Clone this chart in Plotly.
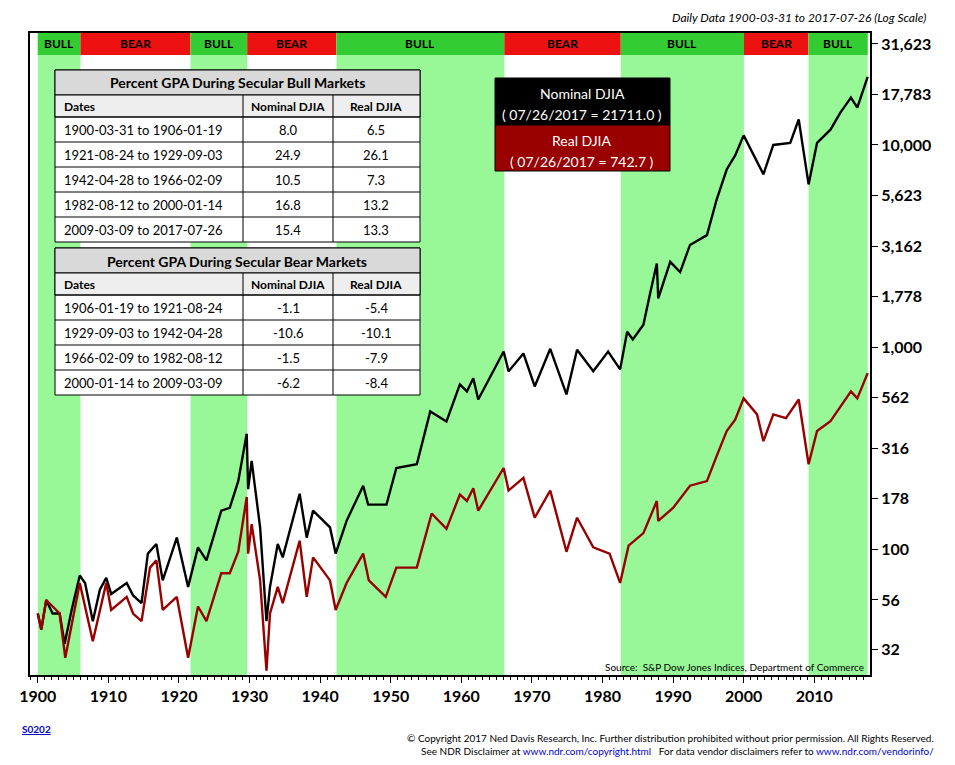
import plotly.graph_objects as go

# page body keeps an 8px margin, so the figure is drawn 8px in from the window edge
OFF = 8
W, H = 955 - 2 * OFF, 765 - 2 * OFF

# ---- data ----
nominal_years = [1900.0, 1900.5, 1901.2, 1902.1, 1903.1, 1903.8, 1904.8, 1905.95, 1906.7, 1907.8,
                 1908.8, 1909.7, 1910.4, 1912.6, 1913.5, 1914.7, 1915.6, 1916.8, 1917.7, 1919.7,
                 1921.3, 1922.7, 1923.9, 1926.0, 1927.2, 1928.4, 1929.6, 1929.8, 1930.3, 1931.5,
                 1932.4, 1932.9, 1934.0, 1934.7, 1937.1, 1938.1, 1939.0, 1941.4, 1942.2, 1943.75,
                 1946.1, 1946.8, 1949.4, 1950.8, 1953.7, 1955.6, 1957.9, 1959.8, 1960.8, 1961.7,
                 1962.4, 1966.0, 1966.7, 1968.8, 1970.4, 1972.6, 1974.9, 1976.4, 1978.7, 1980.8,
                 1982.5, 1983.5, 1984.3, 1985.8, 1986.7, 1987.7, 1987.9, 1989.6, 1991.0, 1992.4,
                 1994.8, 1996.2, 1997.6, 1998.8, 2000.0, 2001.9, 2002.8, 2004.2, 2006.6, 2007.8,
                 2009.2, 2010.4, 2012.3, 2013.7, 2015.2, 2016.1, 2017.57]
nominal_djia = [48, 40, 56, 48, 48, 34, 50, 74, 68, 44,
                63, 72, 60, 68, 59, 54, 95, 106, 70, 114,
                65, 102, 88, 155, 160, 217, 372, 198, 273, 128,
                44, 65, 106, 91, 188, 114, 155, 128, 95, 138,
                206, 166, 166, 252, 263, 480, 428, 653, 603, 700,
                550, 950, 758, 930, 638, 980, 583, 970, 758, 950,
                775, 1190, 1090, 1290, 1810, 2590, 1740, 2640, 2350, 3200,
                3580, 5400, 7560, 8880, 11150, 8200, 7160, 10000, 10240, 13360,
                6380, 10240, 11900, 14450, 17150, 15300, 21711]

real_years = [1900.0, 1900.5, 1901.2, 1903.1, 1903.9, 1905.95, 1907.8, 1909.7, 1910.4, 1912.6,
              1913.5, 1914.7, 1915.9, 1916.8, 1917.7, 1919.7, 1921.3, 1922.7, 1923.9, 1926.0,
              1927.2, 1928.4, 1929.6, 1929.8, 1930.3, 1931.5, 1932.4, 1932.9, 1934.0, 1934.7,
              1937.1, 1938.1, 1939.0, 1941.4, 1942.2, 1943.75, 1946.1, 1946.9, 1949.3, 1950.8,
              1953.7, 1955.8, 1957.9, 1959.8, 1960.8, 1961.7, 1962.4, 1966.0, 1966.7, 1968.8,
              1970.4, 1972.6, 1974.9, 1976.4, 1978.7, 1981.0, 1982.5, 1983.7, 1985.8, 1987.7,
              1987.9, 1990.0, 1992.4, 1994.8, 1996.2, 1997.6, 1998.8, 2000.0, 2001.9, 2002.8,
              2004.2, 2006.0, 2007.8, 2009.2, 2010.4, 2012.3, 2015.2, 2016.1, 2017.57]
real_djia = [48, 40, 56, 48, 29, 68, 35, 68, 50, 58,
             48, 44, 81, 88, 50, 58, 29, 52, 44, 76,
             76, 97, 181, 95, 133, 70, 25, 48, 65, 54,
             110, 58, 91, 70, 50, 68, 95, 70, 58, 81,
             81, 150, 126, 186, 173, 200, 155, 252, 195, 225,
             143, 195, 97, 143, 102, 95, 68, 104, 120, 173,
             138, 160, 206, 217, 290, 384, 437, 557, 464, 342,
             464, 445, 550, 263, 384, 430, 603, 557, 742.7]

regime_start = [1900.0, 1906.05, 1921.65, 1929.67, 1942.32, 1966.1, 1982.6, 2000.04, 2009.2]
regime_end = [1906.05, 1921.65, 1929.67, 1942.32, 1966.1, 1982.6, 2000.04, 2009.2, 2017.57]
regime_label = ["BULL", "BEAR", "BULL", "BEAR", "BULL", "BEAR", "BULL", "BEAR", "BULL"]

bull_dates = ["1900-03-31 to 1906-01-19", "1921-08-24 to 1929-09-03", "1942-04-28 to 1966-02-09",
              "1982-08-12 to 2000-01-14", "2009-03-09 to 2017-07-26"]
bull_nominal = ["8.0", "24.9", "10.5", "16.8", "15.4"]
bull_real = ["6.5", "26.1", "7.3", "13.2", "13.3"]
bear_dates = ["1906-01-19 to 1921-08-24", "1929-09-03 to 1942-04-28",
              "1966-02-09 to 1982-08-12", "2000-01-14 to 2009-03-09"]
bear_nominal = ["-1.1", "-10.6", "-1.5", "-6.2"]
bear_real = ["-5.4", "-10.1", "-7.9", "-8.4"]

y_ticks = [32, 56, 100, 178, 316, 562, 1000, 1778, 3162, 5623, 10000, 17783, 31623]
x_ticks = list(range(1900, 2011, 10))

FONT = "Lato"
px = lambda x: (x - OFF) / W
py = lambda y: 1 - (y - OFF) / H

fig = go.Figure()
fig.add_trace(go.Scatter(x=nominal_years, y=nominal_djia, mode="lines",
                         line=dict(color="black", width=2.4), showlegend=False))
fig.add_trace(go.Scatter(x=real_years, y=real_djia, mode="lines",
                         line=dict(color="#990000", width=2.4), showlegend=False))

shapes, annots = [], []


def text(x, y, s, size=13, color="black", anchor="center"):
    annots.append(dict(x=px(x), y=py(y), xref="paper", yref="paper", xanchor=anchor, yanchor="middle",
                       showarrow=False, text=s, font=dict(family=FONT, size=size, color=color)))


for s, e, lab in zip(regime_start, regime_end, regime_label):
    bull = lab == "BULL"
    if bull:
        shapes.append(dict(type="rect", xref="x", yref="y domain", x0=s, x1=e, y0=0, y1=1,
                           fillcolor="#98f898", line_width=0, layer="below"))
    shapes.append(dict(type="rect", xref="x", yref="y domain", x0=s, x1=e, y0=0.9657, y1=1,
                       fillcolor="#33cc33" if bull else "#ee1111", line_width=0, layer="below"))
    annots.append(dict(x=(s + e) / 2, y=0.983, xref="x", yref="y domain", text=f"<b>{lab}</b>",
                       xanchor="center", yanchor="middle", showarrow=False,
                       font=dict(family=FONT, size=12, color="black")))

cols = [55, 243, 333, 420]


def table(top, title, dates, nom, real):
    bottom = top + 47 + 25 * len(dates)
    box = dict(type="rect", xref="paper", yref="paper", x0=px(55), x1=px(420), line=dict(color="black", width=1))
    shapes.append(dict(box, y0=py(bottom), y1=py(top), fillcolor="white"))
    shapes.append(dict(box, y0=py(top + 25), y1=py(top), fillcolor="#d9d9d9"))
    shapes.append(dict(box, y0=py(top + 47), y1=py(top + 25), fillcolor="#eeeeee"))
    for k in range(len(dates)):
        yy = top + 47 + 25 * k
        shapes.append(dict(type="line", xref="paper", yref="paper", x0=px(55), x1=px(420),
                           y0=py(yy), y1=py(yy), line=dict(color="black", width=1)))
    for c in cols[1:3]:
        shapes.append(dict(type="line", xref="paper", yref="paper", x0=px(c), x1=px(c),
                           y0=py(top + 25), y1=py(bottom), line=dict(color="black", width=1)))
    text(237, top + 13, f"<b>{title}</b>", 14)
    text(62, top + 36, "<b>Dates</b>", 12, anchor="left")
    text(288, top + 36, "<b>Nominal DJIA</b>", 12)
    text(376, top + 36, "<b>Real DJIA</b>", 12)
    for k, (d, n, r) in enumerate(zip(dates, nom, real)):
        yy = top + 47 + 25 * k + 13
        text(62, yy, d, 13, anchor="left")
        text(288, yy, n)
        text(376, yy, r)


table(70, "Percent GPA During Secular Bull Markets", bull_dates, bull_nominal, bull_real)
table(248, "Percent GPA During Secular Bear Markets", bear_dates, bear_nominal, bear_real)

# legend box
shapes.append(dict(type="rect", xref="paper", yref="paper", x0=px(495), x1=px(670), y0=py(125), y1=py(78),
                   fillcolor="black", line=dict(color="black", width=1)))
shapes.append(dict(type="rect", xref="paper", yref="paper", x0=px(495), x1=px(670), y0=py(171), y1=py(125),
                   fillcolor="#990000", line=dict(color="black", width=1)))
for s, yy in [("Nominal DJIA", 93), ("( 07/26/2017 = 21711.0 )", 115),
              ("Real DJIA", 140), ("( 07/26/2017 = 742.7 )", 161)]:
    text(582, yy, s, 14, "white")

text(928, 17, "<i>Daily Data 1900-03-31 to 2017-07-26 (Log Scale)</i>", 12, anchor="right")
text(866, 667, "Source:  S&P Dow Jones Indices, Department of Commerce", 10, anchor="right")
text(20, 729, "<b><u>S0202</u></b>", 10, "#0000cc", anchor="left")
text(936, 738, "© Copyright 2017 Ned Davis Research, Inc. Further distribution prohibited without prior permission. All Rights Reserved.",
     10, anchor="right")
text(936, 751, "See NDR Disclaimer at <span style='color:#0000cc'>www.ndr.com/copyright.html</span>   "
     "For data vendor disclaimers refer to <span style='color:#0000cc'>www.ndr.com/vendorinfo/</span>",
     10, anchor="right")

fig.update_layout(
    width=W, height=H, margin=dict(l=0, r=0, t=0, b=0, autoexpand=False),
    plot_bgcolor="white", paper_bgcolor="white",
    shapes=shapes, annotations=annots,
    xaxis=dict(domain=[px(30), px(870)], range=[1898.9, 2017.9], tickvals=x_ticks, automargin=False,
               ticktext=[f"<b>{t}</b>" for t in x_ticks], tickfont=dict(family=FONT, size=16, color="black"),
               ticks="outside", ticklen=6, tickcolor="black", showgrid=False, zeroline=False,
               showline=True, linecolor="black", linewidth=2, mirror=True,
               minor=dict(dtick=1, ticks="outside", ticklen=3, tickcolor="black")),
    yaxis=dict(domain=[py(675), py(33)], type="log", range=[1.377, 4.554], side="right", automargin=False,
               tickvals=y_ticks, ticktext=[f"<b>{t:,}</b>" for t in y_ticks],
               tickfont=dict(family=FONT, size=16, color="black"), ticks="outside", ticklen=6,
               tickcolor="black", showgrid=False, zeroline=False,
               showline=True, linecolor="black", linewidth=2, mirror=True),
)

fig.write_html("out.html")
